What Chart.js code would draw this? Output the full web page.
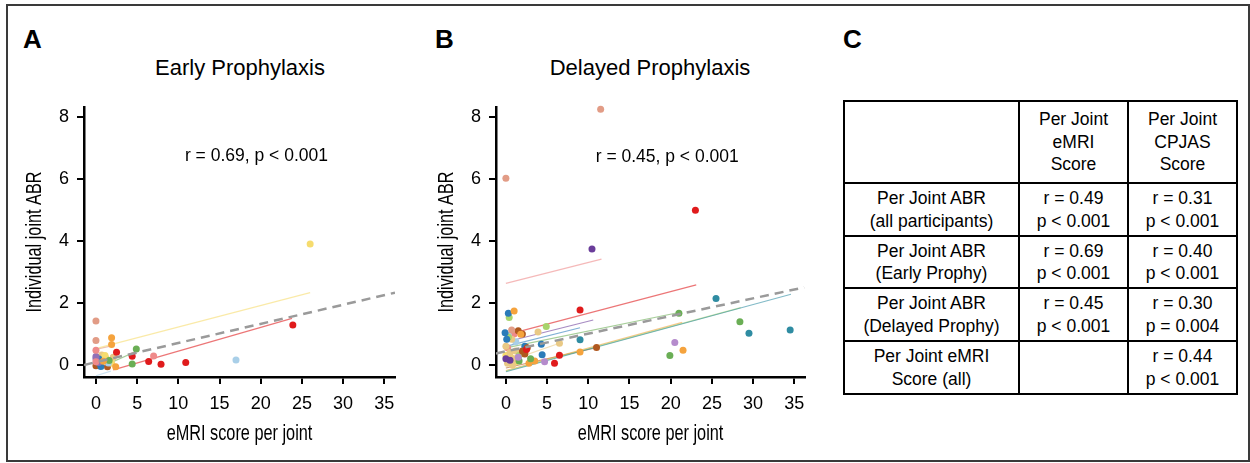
<!DOCTYPE html>
<html>
<head>
<meta charset="utf-8">
<script src="https://cdn.jsdelivr.net/npm/chart.js@4.4.1/dist/chart.umd.min.js"></script>
<style>
  body { margin: 0; width: 1250px; height: 463px; background: #fff; position: relative; overflow: hidden;
         font-family: "Liberation Sans", Arial, sans-serif; color: #000; }
  .frame { position: absolute; left: 6px; top: 4px; width: 1240px; height: 454px; border: 2px solid #3a3a3a; }
  .panel { position: absolute; font-weight: bold; font-size: 26px; line-height: 1; }
  .ttl { position: absolute; font-size: 22px; line-height: 1; text-align: center; width: 300px; }
  canvas { position: absolute; }
  table { position: absolute; left: 843px; top: 100px; border-collapse: collapse; table-layout: fixed;
          font-size: 17.5px; line-height: 22.5px; text-align: center; }
  td { border: 2px solid #000; padding: 0; vertical-align: middle; }
</style>
</head>
<body>
<div class="frame"></div>
<div class="panel" style="left:23px;top:26px">A</div>
<div class="panel" style="left:435px;top:26px">B</div>
<div class="panel" style="left:843px;top:26px">C</div>
<div class="ttl" style="left:90px;top:57px">Early Prophylaxis</div>
<div class="ttl" style="left:500px;top:57px">Delayed Prophylaxis</div>
<canvas id="chartA" width="400" height="420" style="left:10px;top:40px"></canvas>
<canvas id="chartB" width="400" height="420" style="left:422px;top:40px"></canvas>

<table>
  <colgroup><col style="width:175px"><col style="width:109px"><col style="width:109px"></colgroup>
  <tr style="height:82px"><td></td><td>Per Joint<br>eMRI<br>Score</td><td>Per Joint<br>CPJAS<br>Score</td></tr>
  <tr style="height:53px"><td>Per Joint ABR<br>(all participants)</td><td>r = 0.49<br>p &lt; 0.001</td><td>r = 0.31<br>p &lt; 0.001</td></tr>
  <tr style="height:52px"><td>Per Joint ABR<br>(Early Prophy)</td><td>r = 0.69<br>p &lt; 0.001</td><td>r = 0.40<br>p &lt; 0.001</td></tr>
  <tr style="height:53px"><td>Per Joint ABR<br>(Delayed Prophy)</td><td>r = 0.45<br>p &lt; 0.001</td><td>r = 0.30<br>p = 0.004</td></tr>
  <tr style="height:53px"><td>Per Joint eMRI<br>Score (all)</td><td></td><td>r = 0.44<br>p &lt; 0.001</td></tr>
</table>

<script>
// tick labels
var xTicks = [0, 5, 10, 15, 20, 25, 30, 35];
var yTicks = [0, 2, 4, 6, 8];
var xTitle = 'eMRI score per joint';
var yTitle = 'Individual joint ABR';

// colour per participant
var palette = {
  salmon: '#e29c86', orange: '#f5a33d', pink: '#ef8a8a', red: '#e01b1c', green: '#6aae55',
  lightblue: '#a9cfe8', yellow: '#f6dc6e', purple: '#9270b6', darkpurple: '#6a3d9a', lavender: '#b58bcc',
  blue: '#2b7bb9', brown: '#b0581f', tan: '#e9c985', teal: '#2f8ca2', lightgreen: '#a8d46c'
};

// A - early prophylaxis (eMRI score, joint ABR, participant)
var earlyX = [0, 0, 1.9, 1.9, 2.4, 0.9, 0, 7.0, 0, 2.5, 4.4, 6.4, 7.9, 10.9, 23.9, 4.9, 4.4, 1.6,
              17.0, 1.5, 26.0, 1.1, 1.9, 0, 0, 0.3, 0.4, 0.6, 0, 1.4, 0.2, 1.2, 0.7, 2.1];
var earlyY = [1.42, 0.79, 0.88, 0.66, -0.06, 0.12, 0.47, 0.29, 0.1, 0.41, 0.28, 0.11, 0.02, 0.08, 1.29, 0.51, 0.03, 0.14,
              0.16, 0.06, 3.9, 0.3, 0.05, 0.27, 0.2, 0.08, 0.19, -0.05, -0.03, -0.06, 0.02, 0.22, 0.32, 0.25];
var earlyGroup = ['salmon', 'salmon', 'orange', 'orange', 'orange', 'orange', 'pink', 'pink', 'pink',
                  'red', 'red', 'red', 'red', 'red', 'red', 'green', 'green', 'green',
                  'lightblue', 'lightblue', 'yellow', 'yellow', 'yellow', 'purple', 'purple', 'purple',
                  'blue', 'blue', 'brown', 'brown', 'brown', 'tan', 'tan', 'tan'];
// per participant fits [x0, y0, x1, y1, participant]
var earlyFits = [
  [0.3, 0.55, 26, 2.33, 'yellow'],
  [2.1, -0.16, 23.8, 1.5, 'red'],
  [0, -0.35, 1.8, -0.2, 'lightblue'],
  [0, 0.5, 2, 0.62, 'salmon'],
  [1.6, 0.05, 5, 0.45, 'green']
];
var earlyAll = [-1.45, 0, 36.3, 2.33];

// B - delayed prophylaxis
var delayedX = [11.5, 0, 0.7, 23.0, 9.0, 5.9, 6.5, 2.5, 10.45, 0, 0.5, 20.5, 4.7, 1.5,
                25.5, 29.5, 34.5, 9.0, 21.0, 28.4, 19.9, 1.6, 3.0, 21.5, 9.0, 3.5, 1.0, 1.8, 2.8,
                11.0, 1.5, 2.0, 2.3, 2.6, 2.0, 4.4, 4.3, 0.3, -0.1, 0.1, 2.3, 4.9, 0.4, 1.6, 0.3,
                3.9, 6.5, 0.7, 0.5, 0, 0.2, 1.2, 0.8, 1.0, 0.3, 1.2, 0.6, 1.2, 0, 1.0, 0.2];
var delayedY = [8.25, 6.02, 1.13, 4.99, 1.77, 0.05, 0.31, 0.5, 3.74, 0.2, 0.15, 0.72, 0.1, 0.25,
                2.14, 1.02, 1.13, 0.81, 1.67, 1.39, 0.3, 0.13, 0.2, 0.47, 0.42, 0.13, 1.74, 0.99, 0.05,
                0.56, 1.1, 0.45, 0.35, 0.55, 1.0, 0.33, 0.67, 1.67, 1.04, 0.83, 0.6, 1.24, 1.53, 0.3, 0.9,
                1.06, 0.7, 0.83, 0.4, 0.6, 0.05, 0.45, 0.0, 0.2, 0.95, 0.75, 0.25, 0.1, 0.3, 1.0, 0.55];
var delayedGroup = ['salmon', 'salmon', 'salmon', 'red', 'red', 'red', 'red', 'red', 'darkpurple', 'darkpurple', 'darkpurple',
                    'lavender', 'lavender', 'lavender', 'teal', 'teal', 'teal', 'teal', 'green', 'green', 'green', 'green', 'green',
                    'orange', 'orange', 'orange', 'orange', 'orange', 'orange', 'brown', 'brown', 'brown', 'brown', 'brown', 'brown',
                    'blue', 'blue', 'blue', 'blue', 'blue', 'blue', 'lightgreen', 'lightgreen', 'lightgreen', 'lightgreen',
                    'tan', 'tan', 'tan', 'tan', 'tan', 'tan', 'tan', 'tan', 'tan', 'lightblue', 'lightblue',
                    'yellow', 'yellow', 'yellow', 'pink', 'pink'];
var delayedFits = [
  [0, 2.63, 11.6, 3.41, 'pink'],
  [1.3, 1.06, 23.1, 2.58, 'red'],
  [0, 0.74, 10.6, 1.45, 'darkpurple'],
  [0, 0.6, 9.0, 1.2, 'blue'],
  [0, 0.55, 21, 1.69, 'green'],
  [0, -0.22, 34.6, 2.28, 'teal'],
  [0, -0.2, 28.5, 1.85, 'lightgreen'],
  [0, -0.18, 21.4, 1.37, 'orange'],
  [0, -0.1, 11, 0.56, 'brown'],
  [0, 0.1, 6.5, 0.7, 'tan']
];
var delayedAll = [-1.2, 0.37, 36.2, 2.5];

var tickFont = { family: '"Liberation Sans", Arial, sans-serif', size: 18 };

// r / p text in data coordinates, axis titles drawn condensed
var extraText = {
  id: 'extraText',
  afterDraw: function(chart, args, opts) {
    var ctx = chart.ctx, ca = chart.chartArea;
    ctx.save();
    ctx.fillStyle = '#000';
    ctx.textBaseline = 'middle';
    ctx.font = '17.5px "Liberation Sans", Arial, sans-serif';
    ctx.fillText(opts.text, chart.scales.x.getPixelForValue(opts.x), chart.scales.y.getPixelForValue(opts.y));

    ctx.font = '22px "Liberation Sans", Arial, sans-serif';
    ctx.textAlign = 'center';
    ctx.save();
    ctx.translate((ca.left + ca.right) / 2, 394);
    ctx.scale(0.74, 1);
    ctx.fillText(xTitle, 0, 0);
    ctx.restore();
    ctx.save();
    ctx.translate(25, (ca.top + ca.bottom) / 2);
    ctx.rotate(-Math.PI / 2);
    ctx.scale(0.74, 1);
    ctx.fillText(yTitle, 0, 0);
    ctx.restore();
    ctx.restore();
  }
};

function hexA(hex, a) {
  var n = parseInt(hex.slice(1), 16);
  return 'rgba(' + (n >> 16) + ',' + ((n >> 8) & 255) + ',' + (n & 255) + ',' + a + ')';
}

function buildDatasets(xs, ys, groups, fits, all) {
  var sets = [];
  sets.push({
    type: 'line', data: [{ x: all[0], y: all[1] }, { x: all[2], y: all[3] }],
    borderColor: '#9a9a9a', borderWidth: 2.5, borderDash: [9, 6], pointRadius: 0, order: 0
  });
  var names = [];
  groups.forEach(function(g) { if (names.indexOf(g) < 0) names.push(g); });
  names.forEach(function(g) {
    var pts = [];
    for (var i = 0; i < xs.length; i++) if (groups[i] === g) pts.push({ x: xs[i], y: ys[i] });
    sets.push({
      type: 'scatter', data: pts, backgroundColor: palette[g], borderWidth: 0,
      pointRadius: 3.5, order: 1, clip: false
    });
  });
  fits.forEach(function(f) {
    sets.push({
      type: 'line', data: [{ x: f[0], y: f[1] }, { x: f[2], y: f[3] }],
      borderColor: hexA(palette[f[4]], 0.6), borderWidth: 1.2, pointRadius: 0, order: 2
    });
  });
  return sets;
}

function makeChart(id, xs, ys, groups, fits, all, xMin, rightPad, label) {
  return new Chart(document.getElementById(id).getContext('2d'), {
    type: 'scatter',
    data: { datasets: buildDatasets(xs, ys, groups, fits, all) },
    options: {
      responsive: false,
      animation: false,
      layout: { padding: { top: 67, right: rightPad, left: 0, bottom: 0 } },
      plugins: {
        legend: { display: false },
        tooltip: { enabled: false },
        extraText: label
      },
      scales: {
        x: {
          type: 'linear', min: xMin, max: 36.3,
          afterBuildTicks: function(s) { s.ticks = xTicks.map(function(v) { return { value: v }; }); },
          afterFit: function(s) { s.height = 83; },
          grid: { drawOnChartArea: false, drawTicks: true, tickLength: 7, color: '#000', lineWidth: 2 },
          border: { display: true, color: '#000', width: 2.5 },
          ticks: { color: '#000', font: tickFont, padding: 9, maxRotation: 0 }
        },
        y: {
          type: 'linear', min: -0.39, max: 8.32,
          afterBuildTicks: function(s) { s.ticks = yTicks.map(function(v) { return { value: v }; }); },
          afterFit: function(s) { s.width = 74; },
          grid: { drawOnChartArea: false, drawTicks: true, tickLength: 7, color: '#000', lineWidth: 2 },
          border: { display: true, color: '#000', width: 2.5 },
          ticks: { color: '#000', font: tickFont, padding: 8 }
        }
      }
    },
    plugins: [extraText]
  });
}

makeChart('chartA', earlyX, earlyY, earlyGroup, earlyFits, earlyAll, -1.45, 15,
          { text: 'r = 0.69, p < 0.001', x: 10.8, y: 6.73 });
makeChart('chartB', delayedX, delayedY, delayedGroup, delayedFits, delayedAll, -1.2, 17,
          { text: 'r = 0.45, p < 0.001', x: 10.9, y: 6.7 });
</script>
</body>
</html>
